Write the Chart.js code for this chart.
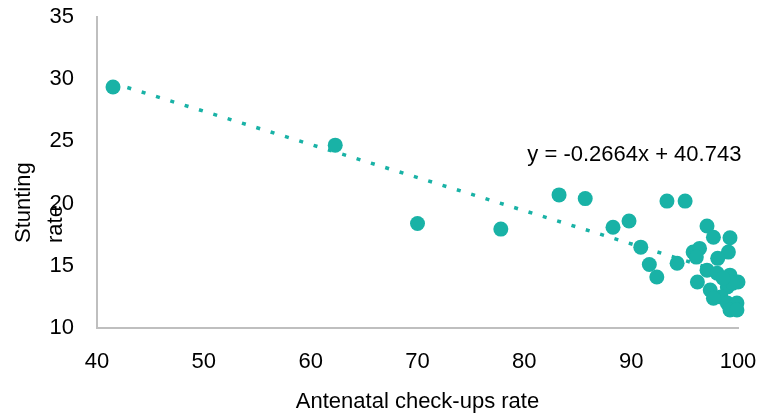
<!DOCTYPE html>
<html>
<head>
<meta charset="utf-8">
<script src="https://cdn.jsdelivr.net/npm/chart.js@4"></script>
<style>
  html, body { margin: 0; padding: 0; background: #fff; }
  #wrap { width: 762px; height: 415px; }
</style>
</head>
<body>
<div id="wrap"><canvas id="myChart" width="762" height="415"></canvas></div>
<script>
// antenatal check-ups rate (x) vs stunting rate (y)
var checkups = [41.5, 62.3, 70.0, 77.8, 83.25, 85.7, 88.3, 89.8, 93.35, 95.05,
                90.9, 91.7, 92.4, 94.3, 97.1, 97.7, 99.25, 99.1, 98.1, 95.8,
                96.4, 96.1, 96.2, 97.1, 98.05, 99.25, 100.0, 97.4, 99.0, 98.4,
                99.0, 99.9, 99.25, 99.9, 97.7, 99.5, 98.6];
var stunting = [29.37, 24.7, 18.4, 17.95, 20.7, 20.4, 18.1, 18.6, 20.2, 20.2,
                16.5, 15.1, 14.1, 15.2, 18.2, 17.3, 17.25, 16.1, 15.6, 16.1,
                16.4, 15.7, 13.7, 14.65, 14.4, 14.25, 13.7, 13.05, 13.3, 12.5,
                12.0, 12.0, 11.45, 11.45, 12.4, 13.6, 14.0];
var xTicks = [40, 50, 60, 70, 80, 90, 100];
var yTicks = [10, 15, 20, 25, 30, 35];

// linear trendline reported on the chart
var slope = -0.2664;
var intercept = 40.743;
var trendFrom = 41.5, trendTo = 99.8;

var teal = '#19B2A6';
var font = "'Liberation Sans', Arial, sans-serif";
var fs = 22;

var points = checkups.map(function(x, i) { return {x: x, y: stunting[i]}; });
var trend = [trendFrom, trendTo].map(function(x) { return {x: x, y: slope * x + intercept}; });

function noPad(s) {
    s.paddingTop = 0; s.paddingBottom = 0; s.paddingLeft = 0; s.paddingRight = 0;
}

// y title and trendline equation drawn as free text (they sit over the ticks / plot)
var extraText = {
    id: 'extraText',
    afterDraw: function(chart) {
        var c = chart.ctx;
        c.save();
        c.fillStyle = '#000';
        c.font = fs + 'px ' + font;
        c.textBaseline = 'middle';
        c.translate(24, 243);
        c.rotate(-Math.PI / 2);
        c.textAlign = 'left';
        c.fillText('Stunting', 0, 0);
        c.fillText('rate', 0, 32);
        c.restore();

        c.save();
        c.fillStyle = '#000';
        c.font = fs + 'px ' + font;
        c.textAlign = 'center';
        c.textBaseline = 'middle';
        var px = chart.scales.x.getPixelForValue(90.3);
        var py = chart.scales.y.getPixelForValue(23.9);
        c.fillText('y = -0.2664x + 40.743', px, py);
        c.restore();
    }
};

var ctx = document.getElementById('myChart').getContext('2d');
var myChart = new Chart(ctx, {
    type: 'scatter',
    data: {
        datasets: [{
            type: 'line',
            data: trend,
            borderColor: teal,
            borderWidth: 3.5,
            borderDash: [4, 11],
            pointRadius: 0,
            fill: false,
            order: 2
        }, {
            data: points,
            backgroundColor: teal,
            borderColor: teal,
            borderWidth: 0,
            pointRadius: 7.5,
            clip: false,
            order: 1
        }]
    },
    options: {
        responsive: false,
        animation: false,
        layout: { padding: { top: 17, right: 24, left: 0, bottom: 0 } },
        plugins: {
            legend: { display: false },
            tooltip: { enabled: false }
        },
        scales: {
            x: {
                type: 'linear',
                min: 40, max: 100,
                afterBuildTicks: function(s) { s.ticks = xTicks.map(function(v) { return {value: v}; }); },
                afterFit: function(s) { s.height = 87; noPad(s); },
                grid: { color: 'rgba(0,0,0,0)', drawTicks: false },
                border: { color: '#BFBFBF', width: 2 },
                ticks: { color: '#000', font: { family: font, size: fs }, padding: 21, maxRotation: 0 },
                title: {
                    display: true,
                    text: 'Antenatal check-ups rate',
                    color: '#000',
                    font: { family: font, size: fs },
                    padding: { top: 0, bottom: 0 }
                }
            },
            y: {
                type: 'linear',
                min: 10, max: 35,
                afterBuildTicks: function(s) { s.ticks = yTicks.map(function(v) { return {value: v}; }); },
                afterFit: function(s) { s.width = 97; noPad(s); },
                grid: { color: 'rgba(0,0,0,0)', drawTicks: false },
                border: { color: '#BFBFBF', width: 2 },
                ticks: { color: '#000', font: { family: font, size: fs }, padding: 23 }
            }
        }
    },
    plugins: [extraText]
});
</script>
</body>
</html>
